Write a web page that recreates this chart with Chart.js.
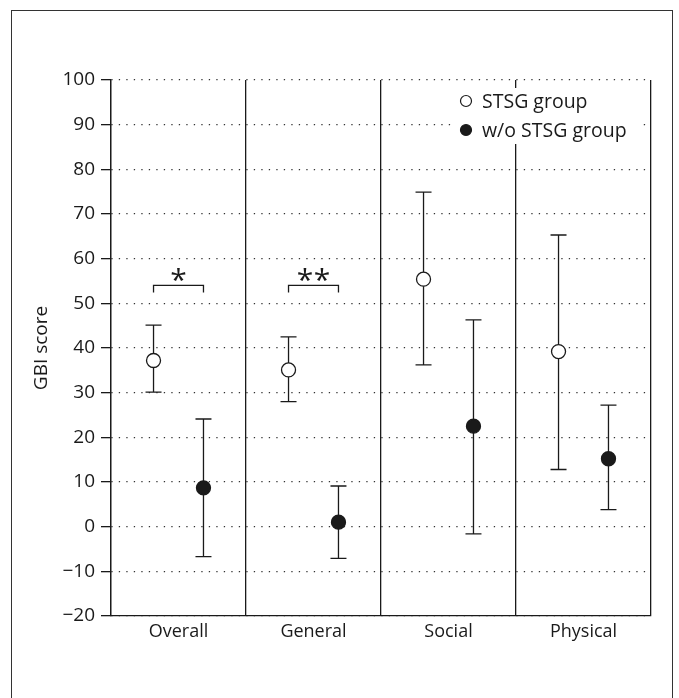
<!DOCTYPE html>
<html>
<head>
<meta charset="utf-8">
<script src="https://cdn.jsdelivr.net/npm/chart.js@4/dist/chart.umd.min.js"></script>
<style>
  html, body { margin: 0; padding: 0; background: #fff; }
  #frame {
    position: absolute; left: 11px; top: 10px; width: 660px; height: 700px;
    border: 1.5px solid #333; border-bottom: none;
  }
  #myChart { position: absolute; left: 0; top: 0; }
</style>
</head>
<body>
<div id="frame"></div>
<canvas id="myChart" width="679" height="698"></canvas>
<script>
const categories = ['Overall', 'General', 'Social', 'Physical'];

// STSG group: mean and error bar ends
const stsgMean = [37.2, 35.1, 55.4, 39.2];
const stsgLow  = [30.1, 28.0, 36.2, 12.8];
const stsgHigh = [45.1, 42.5, 74.9, 65.3];

// w/o STSG group
const woMean = [8.7, 1.0, 22.5, 15.2];
const woLow  = [-6.7, -7.1, -1.6, 3.8];
const woHigh = [24.1, 9.1, 46.3, 27.2];

// significance brackets
const sigMarks = ['*', '**', '', ''];
const sigLevel = [54, 54, null, null];

const yMin = -20, yMax = 100, yStep = 10;

const SHIFT = 0.185; // offset of each group inside its category
const INK = '#1a1a1a';
const FONT = '"Open Sans", "Noto Sans", sans-serif';

const toPoints = (mean, low, high, shift) =>
  mean.map((m, i) => ({x: i + shift, y: m, yMin: low[i], yMax: high[i]}));

const errorBars = {
  id: 'errorBars',
  beforeDatasetsDraw(chart) {
    const {ctx} = chart;
    const x = chart.scales.x, y = chart.scales.y;
    ctx.save();
    ctx.strokeStyle = INK;
    ctx.lineWidth = 1.3;
    chart.data.datasets.forEach(ds => {
      ds.data.forEach(p => {
        const px = x.getPixelForValue(p.x);
        const top = y.getPixelForValue(p.yMax);
        const bot = y.getPixelForValue(p.yMin);
        ctx.beginPath();
        ctx.moveTo(px, top); ctx.lineTo(px, bot);
        ctx.moveTo(px - 8, top); ctx.lineTo(px + 8, top);
        ctx.moveTo(px - 8, bot); ctx.lineTo(px + 8, bot);
        ctx.stroke();
      });
    });
    ctx.restore();
  }
};

const brackets = {
  id: 'brackets',
  afterDatasetsDraw(chart) {
    const {ctx} = chart;
    const x = chart.scales.x, y = chart.scales.y;
    ctx.save();
    ctx.strokeStyle = INK;
    ctx.fillStyle = INK;
    ctx.lineWidth = 1.3;
    ctx.font = '30px ' + FONT;
    ctx.textAlign = 'center';
    ctx.textBaseline = 'alphabetic';
    sigMarks.forEach((mark, i) => {
      if (!mark) return;
      const x1 = x.getPixelForValue(i - SHIFT);
      const x2 = x.getPixelForValue(i + SHIFT);
      const py = y.getPixelForValue(sigLevel[i]);
      ctx.beginPath();
      ctx.moveTo(x1, py + 7); ctx.lineTo(x1, py); ctx.lineTo(x2, py); ctx.lineTo(x2, py + 7);
      ctx.stroke();
      const mid = (x1 + x2) / 2;
      const n = mark.length;
      for (let k = 0; k < n; k++) {
        ctx.fillText('*', mid + (k - (n - 1) / 2) * 17, py + 5);
      }
    });
    ctx.restore();
  }
};

const boxLegend = {
  id: 'boxLegend',
  afterDraw(chart) {
    const {ctx, chartArea} = chart;
    const mx = chartArea.right - 185;
    const y0 = chartArea.top + 21;
    ctx.save();
    ctx.fillStyle = '#fff';
    ctx.fillRect(mx - 10, chartArea.top + 8, 186, 56);
    ctx.font = '19.5px ' + FONT;
    ctx.textBaseline = 'middle';
    ctx.textAlign = 'left';
    chart.data.datasets.forEach((ds, i) => {
      const cy = y0 + i * 29;
      ctx.beginPath();
      ctx.arc(mx, cy, 5.5, 0, Math.PI * 2);
      ctx.fillStyle = ds.backgroundColor;
      ctx.fill();
      ctx.lineWidth = 1.2;
      ctx.strokeStyle = INK;
      ctx.stroke();
      ctx.fillStyle = INK;
      ctx.fillText(ds.label, mx + 16, cy + 1);
    });
    ctx.restore();
  }
};

new Chart(document.getElementById('myChart').getContext('2d'), {
  type: 'scatter',
  data: {
    datasets: [
      {
        label: 'STSG group',
        data: toPoints(stsgMean, stsgLow, stsgHigh, -SHIFT),
        backgroundColor: '#fff',
        borderColor: INK,
        borderWidth: 1.3,
        pointRadius: 7,
        pointHoverRadius: 7
      },
      {
        label: 'w/o STSG group',
        data: toPoints(woMean, woLow, woHigh, SHIFT),
        backgroundColor: INK,
        borderColor: INK,
        borderWidth: 1.3,
        pointRadius: 7,
        pointHoverRadius: 7
      }
    ]
  },
  options: {
    responsive: false,
    animation: false,
    layout: {padding: {left: 0, top: 80, right: 28, bottom: 42}},
    plugins: {legend: {display: false}, tooltip: {enabled: false}},
    scales: {
      x: {type: 'linear', display: false, min: -0.5, max: 3.5},
      xCat: {
        type: 'category',
        labels: categories,
        position: 'bottom',
        offset: true,
        afterFit: s => { s.height = 40; },
        grid: {offset: true, color: INK, lineWidth: 1.3, drawTicks: false},
        border: {color: INK, width: 1.3},
        ticks: {color: INK, padding: 5, font: {family: FONT, size: 18}}
      },
      y: {
        min: yMin,
        max: yMax,
        afterFit: s => { s.width = 111; },
        ticks: {
          stepSize: yStep,
          color: INK,
          padding: 6,
          font: {family: FONT, size: 19},
          callback: v => v < 0 ? '\u2212' + Math.abs(v) : v
        },
        grid: {color: '#333', lineWidth: 1.3, tickLength: 10, tickColor: INK, tickBorderDash: []},
        border: {color: INK, width: 1.3, dash: [1.3, 6.2]},
        title: {
          display: true,
          text: 'GBI score',
          color: INK,
          font: {family: FONT, size: 19},
          padding: {top: 30, bottom: 0}
        }
      }
    }
  },
  plugins: [errorBars, brackets, boxLegend]
});
</script>
</body>
</html>
